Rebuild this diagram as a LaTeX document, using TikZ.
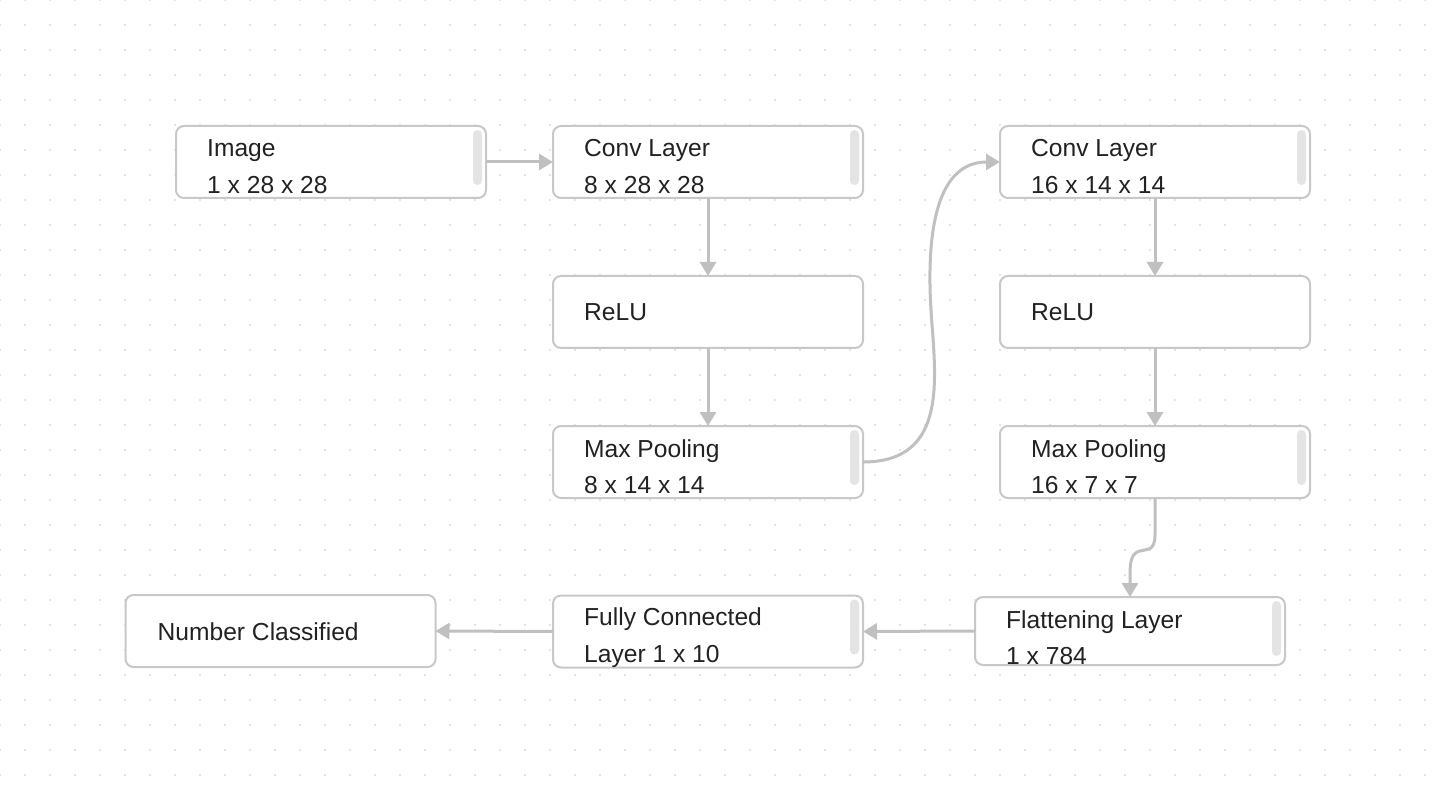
\documentclass[tikz,border=0pt]{standalone}
\usepackage{fontspec}
\setmainfont{Liberation Sans}
\usetikzlibrary{arrows.meta,calc}
\definecolor{dotc}{HTML}{E4E4E4}
\definecolor{boxc}{HTML}{C8C8C8}
\definecolor{arrc}{HTML}{C0C0C0}
\definecolor{scrc}{HTML}{E4E4E4}
\definecolor{txtc}{HTML}{222222}
\begin{document}
\begin{tikzpicture}[x=1pt,y=-1pt,
  box/.style={draw=boxc,line width=2pt,rounded corners=8pt,fill=white,minimum width=310pt,minimum height=72pt,inner sep=0pt,outer sep=0pt},
  lbl/.style={anchor=base west,inner sep=0pt,text=txtc,font=\fontsize{24.6}{36}\selectfont},
  scroll/.style={fill=scrc,rounded corners=4.5pt},
  conn/.style={draw=arrc,line width=3pt,-{Triangle[length=14pt,width=16pt]}}]
\fill[white] (0,0) rectangle (1438,794);
\useasboundingbox (0,0) rectangle (1438,794);
\foreach \i in {0,...,57}{\foreach \j in {0,...,31}{\fill[dotc] (\i*25-1,\j*25-1) rectangle ++(2,2);}}
% boxes
\node[box] (img) at (331,162) {};
\node[box] (conv1) at (708,162) {};
\node[box] (relu1) at (708,312) {};
\node[box] (pool1) at (708,462) {};
\node[box] (conv2) at (1155,162) {};
\node[box] (relu2) at (1155,312) {};
\node[box] (pool2) at (1155,462) {};
\node[box,minimum height=68pt] (flat) at (1130,631) {};
\node[box] (fc) at (708,631.5) {};
\node[box] (out) at (280.5,631) {};
% scrollbars
\foreach \n in {img,conv1,pool1,conv2,pool2,flat,fc}{
  \fill[scroll] ($(\n.north east)+(-13,4)$) rectangle ($(\n.north east)+(-4,59)$);
}
% connectors
\coordinate (m1) at (931,310);
\draw[conn] (img.east) -- (conv1.west);
\draw[conn] (conv1.south) -- (relu1.north);
\draw[conn] (relu1.south) -- (pool1.north);
\draw[conn] (pool1.east) .. controls (950,462) and (935,375) .. (m1) .. controls (927,245) and (932,162) .. (conv2.west);
\draw[conn] (conv2.south) -- (relu2.north);
\draw[conn] (relu2.south) -- (pool2.north);
\coordinate (q1) at (1155,535);
\coordinate (q2) at (1140,551);
\coordinate (q3) at (1130,575);
\draw[conn] (pool2.south) -- (q1) .. controls (1155,552) and (1146,549) .. (q2) .. controls (1132,553) and (1130,560) .. (q3) -- (flat.north);
\draw[conn] (flat.west) -- (fc.east);
\draw[conn] (fc.west) -- (out.east);
% texts
\node[lbl] (t1a) at ($(img.north west)+(31,31)$) {Image};
\node[lbl] (t1b) at ($(img.north west)+(31,67.5)$) {1 x 28 x 28};
\node[lbl] (t2a) at ($(conv1.north west)+(31,31)$) {Conv Layer};
\node[lbl] (t2b) at ($(conv1.north west)+(31,67.5)$) {8 x 28 x 28};
\node[lbl] (t3) at ($(relu1.west)+(31,8.5)$) {ReLU};
\node[lbl] (t4a) at ($(pool1.north west)+(31,31)$) {Max Pooling};
\node[lbl] (t4b) at ($(pool1.north west)+(31,67.5)$) {8 x 14 x 14};
\node[lbl] (t5a) at ($(conv2.north west)+(31,31)$) {Conv Layer};
\node[lbl] (t5b) at ($(conv2.north west)+(31,67.5)$) {16 x 14 x 14};
\node[lbl] (t6) at ($(relu2.west)+(31,8.5)$) {ReLU};
\node[lbl] (t7a) at ($(pool2.north west)+(31,31)$) {Max Pooling};
\node[lbl] (t7b) at ($(pool2.north west)+(31,67.5)$) {16 x 7 x 7};
\node[lbl] (t8a) at ($(flat.north west)+(31,31)$) {Flattening Layer};
\node[lbl] (t8b) at ($(flat.north west)+(31,67)$) {1 x 784};
\node[lbl] (t9a) at ($(fc.north west)+(31,30)$) {Fully Connected};
\node[lbl] (t9b) at ($(fc.north west)+(31,67)$) {Layer 1 x 10};
\node[lbl] (t10) at ($(out.west)+(32,9)$) {Number Classified};
\end{tikzpicture}
\end{document}
